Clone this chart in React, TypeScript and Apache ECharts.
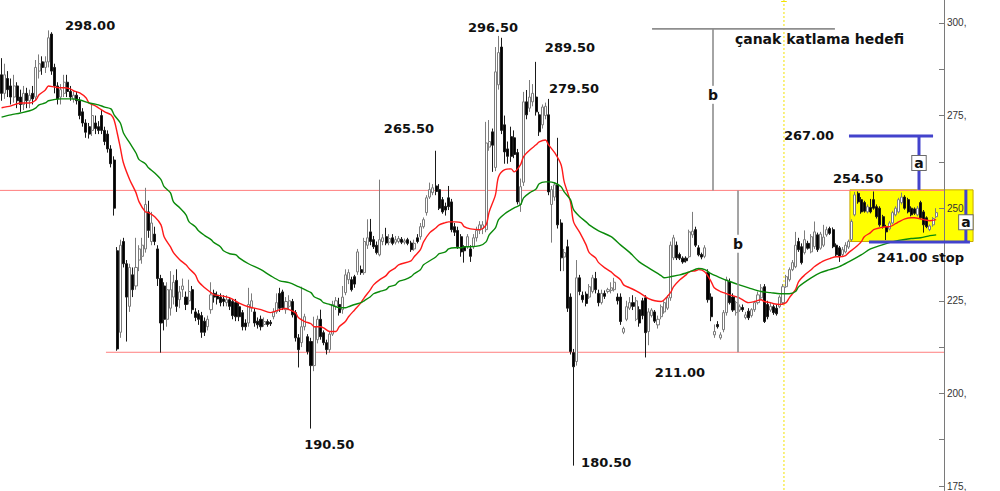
import React, { useEffect, useRef } from "react";
import * as echarts from "echarts";

// [open, close, low, high]
const candles: number[][] = [
  [286,281,279,290.5],[281,286,279.5,289],[285,282,280,287],[283,280,278,285],[280,283,278.5,286],
  [283,279,277,284],[280,278,276,282],[278,281,276.5,283],[281,279,277,282.5],[279,280.5,277,282],
  [281,279.5,278,283],[280,288,279,290],[287,289,285,291.5],[289.5,288,286,291],[288,289.5,286.5,291],
  [289.5,296,288,298],[297,287,286,297.5],[288,283,281,289],[283,279.5,278,284],[280,282,278,283.5],
  [281,284,280,286],[284,281.5,280,286],[281.5,280,279,283],[279.5,280.5,278.5,281.5],[280.5,279,278,281.5],
  [279,275,274,280],[276,273,272,277],[273,270.5,269,274],[272,270,268.8,273],[271,275,269.5,278],
  [273,271.5,270,275],[272,271,270,273.5],[275,271,270,276.5],[271,268,267,272],[270,266,265,271],
  [266,262,261,267],[263,250,248,264],[238.5,212,211.5,239.5],[216.5,240,215,241.5],[241,235,234,242],
  [235,226,214,236],[223.5,234,222,235],[232,228,226,234],[229,234,228,242],[236,239,233,240],
  [237,240,235,242],[239,251,238,255.5],[249,244,242,252],[241,246,240,249],[243,241,240,245],
  [239,231,229,240],[231,219,211,232],[229,220,217,230],[220,228,218,230],[223,228,221,233],
  [226,230,224,232],[230.5,223.5,222,233.5],[225.3,227.4,223,229],[228,229,226,231],[226,224,222.5,227.5],
  [225,227.5,224,230.7],[228,222.6,221.5,229],[222,220.5,219.5,223],[221.5,220,218.5,222.5],[221,216.5,215,222],
  [219.5,216.5,215.5,220.5],[218,220,217,221],[222.6,226.6,221.5,230],[227,226,224.5,228],[226.5,225.5,224,227.5],
  [226,224.5,223.5,227],[225.5,224.8,223.5,226.5],[224.5,225.3,223.5,226.5],[225.3,223.5,222.5,226],[224.8,221,220,225.5],
  [224.5,220.7,219.5,225.5],[223.4,220.7,219.5,224.5],[221.8,218,217,222.5],[219,218,217,220],[219,224,218,228.5],
  [223,225,222,227],[222,219,218,223],[219.5,218.5,217.5,220.5],[220,218,217,221],[218.6,219.4,218,220.5],
  [219.4,218.6,218,220],[219.2,218.8,218.2,219.8],[220.7,222,220,223],[222,224.5,221.5,227],[227,223,222,228.5],
  [227.4,223.1,222.5,228],[222.6,224.8,221.5,226],[223.5,225,222.5,226.5],[224.8,221.2,220.5,225.5],[221.8,215,214,222.5],
  [215,211.8,207,216],[213.7,218,212.5,228.8],[218,220.7,217,221.5],[215.3,211.3,210.5,216],[214,207.5,190.5,215],
  [207.5,218,206,220.7],[214.5,220,213.5,221],[220,215.3,214.5,222.6],[216.4,213.7,213,217],[213.7,211.8,210.5,214.5],
  [211.8,216,211,216.8],[216,224,215.5,225],[223.5,225,222.5,226],[224,221.8,221,225.8],[222.6,226,221.5,229],
  [227.2,232,226.5,233.5],[230.7,232.6,229.5,233.5],[230.7,228,227.5,231.5],[231.5,229.5,228.5,232],[232.8,238.2,232,239],
  [233.4,232.6,232,234.5],[232.6,241,232,242],[240,242,239,247],[243.6,241,240,247.1],[241.5,239.6,239,242.5],
  [240,238,237.5,241],[237.4,241.5,237,257.7],[241,242,240,243],[242.3,240.6,240,244.7],[240.8,241.8,240,243],
  [242,240.5,240,243],[240.8,241.5,240.2,242.5],[241,241.8,240.5,242.5],[241.6,240.8,240.3,242.2],[240.8,241.2,240.2,241.8],
  [241.5,240.5,240,242],[240.6,238.8,238.2,241.2],[239,240.5,238.5,241.5],[242,241,240.5,243],[242.3,245,241.5,246],
  [245,246.9,244.5,247.5],[248.8,252.8,248,253.5],[253,255,252.5,256.9],[254.2,255.5,253.5,256.5],[256,254.5,253.5,265.5],
  [255,250,249.5,256.5],[252.3,249,248.5,253],[250.5,249.5,248,251.5],[252.8,250.4,249.5,256],[251.7,244.2,243.5,252.5],
  [245,243.5,242.5,246],[244,239.6,239,245],[242.3,238.2,236.9,243],[239.5,238.5,235.3,240],[239.6,242.3,239,243],
  [239,237,235.5,240],[239.6,242,239,243],[242,244,241,245],[244,245.5,243,246.5],[244.5,245.5,243,246.5],
  [244.2,267.6,243.5,273.3],[266.5,268,265.5,273.8],[270.6,267,259.8,271.5],[261,286.8,260,293.5],[283.3,292,282,296.5],
  [293.5,271,270,296],[272.5,265.2,262,275],[266,264,262,268],[269.3,264,262.5,272],[269,264.5,263.5,271],
  [265,251.7,251,266],[251,255.8,249,258],[257,278.7,256,281.4],[278.7,275.2,274,281.9],[277,280,276,284.6],
  [278.7,281,277.5,283.5],[280,276,275,289.5],[275.2,270.6,269.5,276],[272.5,277.3,271.5,278],[275,277.5,274,278.5],
  [275.2,254.4,253.5,279.5],[251,255,240.7,256],[253,256.3,252,257],[256.3,245.5,244.5,269],[246,236.6,233,247],
  [236.8,238,233,239],[239.6,223,222,241.5],[226,211.3,210.5,227],[211,207.2,180.5,212],[208.6,231.2,207.5,236],
  [231.2,227.5,226.5,232],[226.5,225.3,224.5,227.5],[226.8,224.3,223.5,227.5],[226,228.8,225.5,229.5],[227.5,231.2,227,232],
  [231,228,227,232.8],[227,224.5,223.5,228],[224.5,227,224,228],[227,226.2,225.5,227.8],[227.5,228,227,228.5],
  [227.8,228.5,227,230],[228,230,227.5,231.2],[226,225,224,227],[226,219.4,218.5,227],[216.5,217.5,216,218],
  [220,223.4,219.5,225],[223,224.5,222.5,226],[224.5,223.5,222.5,226.5],[220,225,219.5,226],[222.6,219,218,223.5],
  [225,221,220,225.8],[225.8,216.4,209.7,226.5],[216.7,222,213,223],[221,222.5,220.5,223],[222,219.5,219,222.5],
  [218.5,220,217.5,221],[220.7,223.4,220,224],[222,224.5,221.5,225],[223,225.8,222.5,226.5],[225.8,240,225,241],
  [236.6,242,236,242.8],[240,236.6,236,241],[237.5,236.5,236,238],[236.5,235.5,235,237],[236.5,235.8,235.3,237],
  [236.9,243.6,236.5,244.2],[242.8,243.8,242,249],[244.2,240,239.5,245],[239.3,237.4,237,240],[237.5,236.8,236.2,238],
  [237,239.3,236.5,240],[232.6,225.3,224.5,233.5],[226,220.7,219.5,227],[215.8,216.7,215,218.6],[218.6,218,217.5,219.5],
  [215,215.8,214.5,216.5],[217.2,221.8,216.5,222.5],[221.8,230.7,221,231.5],[230.2,224.5,224,231],[226,222.5,222,227],
  [221.8,224.5,221,225],[222.5,223.4,222,224],[223.2,222.6,222,224],[220.5,221.2,220,222],[222.2,220.4,219.8,223],
  [221,222.6,220.5,223],[222.6,224.5,222,225],[224.5,226.6,224,227.5],[225.8,228.5,225.5,229.5],[228.8,219.4,219,229.5],
  [224,220.7,220,225],[222.5,223.5,222,224.5],[223.4,221.8,221.2,224],[223,221.5,221,224],[223.4,226,223,226.5],
  [224.5,228.8,224,229.5],[228.8,231.5,228.5,232],[230.7,233.4,230.2,234],[233.4,235.3,233,236],[234.2,240,233.8,243.6],
  [241,238.8,238.2,242],[239.6,235.3,234.8,240.5],[238,241.5,237.5,244],[240.5,239.2,238.8,241.2],[238.2,242.3,237.8,243],
  [239.6,243.6,239,246.4],[242.8,238.8,238.2,243.4],[239.2,243,238.8,243.6],[240,242.2,239.5,245.5],[242.8,244.2,242.3,245],
  [244.5,243.2,242.8,245],[244.2,239.6,239.2,244.8],[240,237.4,237,240.5],[239.3,236.9,235.5,239.8],[237.5,238.8,237,239.5],
  [238.2,240,237.8,240.8],[239.5,241,239,241.5],[241.5,246.4,241,247],[248.2,253.6,247.8,254.4],[254,251.7,251.2,254.5],
  [252.3,249,248.5,253],[251.5,249.2,248.8,252],[249,250.4,248.6,251],[250.2,249,248.6,252.5],[252.3,250,249.6,254.5],
  [250.4,247.7,247.2,251],[250,245.5,245,250.5],[247.7,245,244.5,248.2],[245,243.6,241.4,245.5],[244.4,246,244,246.5],
  [246,248.8,245.6,249.3],[248.2,250,247.8,250.5],[249,252.3,248.6,252.8],[251.5,253,251,254.2],[253,250,249.6,253.5],
  [252.3,249,248.6,252.8],[250,248.2,247.8,250.5],[249.8,248.6,248.2,250.2],[248.2,250,247.8,250.6],[251.5,247.4,247,252],
  [249,245.5,243.4,249.5],[247.4,245,244.6,247.8],[244.2,245.2,243.8,245.6],[245.5,247.2,245,247.6],[247.7,248.8,247.3,250],
];

// fast moving average, sampled [candle index, value]
const maFast: number[][] = [
  [0,277.1],[3,277.6],[6,278.4],[9,278.4],[11,279.2],[12,280.6],[14,281.9],[15,283],[17,282.7],[19,282.5],[20,282.5],
  [22,282.2],[23,281.7],[25,281.1],[27,279.8],[28,278.4],[30,277.6],[31,277.1],[33,276],[35,275.2],[36,273.8],[37,270.3],
  [38,266.3],[39,262.2],[41,257.7],[43,254.2],[44,251.7],[46,249],[47,248.8],[49,247.7],[51,245.5],[52,242.3],[54,239.6],
  [55,238],[57,236.1],[59,234.7],[60,233.7],[62,232],[63,230.2],[65,228.5],[67,227.2],[68,226.6],[70,226.4],[73,225.8],
  [76,224.4],[79,223.4],[83,222.6],[86,221.8],[89,222.6],[91,222.9],[92,222.6],[94,221.8],[95,220.4],[97,219.4],[99,218.8],
  [100,218],[102,218],[103,217.7],[105,216.7],[107,216.7],[108,218],[110,219.4],[111,220.7],[113,222.6],[115,224.5],
  [116,225.8],[118,228],[119,229.3],[121,230.7],[123,231.8],[124,232.8],[126,233.9],[127,234.7],[131,235.8],[132,236.9],
  [134,238.8],[135,240.9],[137,243.4],[139,244.7],[140,245.5],[142,246.1],[143,246.3],[145,246.3],[147,246.1],[148,245],
  [150,244.4],[153,244.2],[155,245.5],[156,249],[158,253.6],[159,258.5],[161,260.4],[163,260.6],[164,259.8],[166,261.7],
  [167,263.9],[169,265.7],[171,267.1],[172,267.9],[174,268.4],[175,267.1],[177,264.9],[179,261.7],[180,257.1],[182,251.7],
  [183,246.3],[185,243.4],[187,240.1],[188,238],[190,236.6],[191,235.3],[193,233.9],[195,232.8],[196,232],[198,230.7],
  [199,229.3],[201,228.5],[203,227.7],[204,227.2],[206,226.1],[207,225.6],[209,225],[211,224.8],[212,225.3],[214,227.2],
  [215,228.8],[217,230.7],[219,232],[220,232.8],[222,233.1],[223,233.4],[225,232.8],[227,230.2],[228,228.5],[230,227.5],
  [231,227.2],[233,226.6],[235,226.1],[236,225.8],[238,224.8],[239,224.5],[241,224.8],[243,225.3],[244,224.8],[246,224.5],
  [247,224.2],[249,224],[251,224.5],[252,225.8],[254,228],[255,230.2],[257,232],[259,233.4],[260,234.2],[262,235.3],
  [263,235.8],[265,236.4],[267,236.9],[268,236.9],[270,237.2],[271,238],[273,239.3],[275,240.9],[276,242.3],[278,243.4],
  [279,244.2],[281,244.7],[283,245],[284,245],[286,245.8],[287,246.3],[289,247.1],[291,247.4],[292,247.4],[294,247.1],
  [295,246.9],[297,246.6],[299,246.9],
];

// slow moving average, sampled [candle index, value]
const maSlow: number[][] = [
  [0,274.6],[3,275.2],[6,275.7],[9,276.3],[11,277.1],[12,277.9],[14,278.4],[15,279],[19,279.5],[22,279.5],[25,279.2],
  [28,278.4],[30,278.1],[31,277.9],[33,277.3],[35,276.8],[36,275.2],[38,273],[39,270.3],[41,267.6],[43,264.9],[44,263.1],
  [46,262],[47,260.9],[49,259.5],[51,257.7],[52,255.8],[54,254.2],[55,251.7],[57,250.1],[59,248.2],[60,246.3],[62,245],
  [63,243.9],[65,242.6],[67,241.5],[68,240.7],[70,239.6],[71,238.5],[73,237.7],[75,237.4],[76,236.6],[79,235],[83,233.4],
  [86,231.8],[89,230.4],[92,229.9],[95,228.8],[97,228],[99,227.2],[100,226.1],[102,225.3],[103,224.5],[105,224],[107,223.4],
  [108,223.1],[110,223.1],[111,223.4],[113,224],[115,224.5],[116,225],[118,226.1],[119,226.9],[121,227.5],[123,228],
  [124,228.8],[126,229.3],[127,230.2],[129,230.7],[131,231.5],[132,232.3],[134,233.4],[135,234.7],[137,235.8],[139,236.9],
  [140,237.7],[142,238.2],[143,239],[145,239.3],[147,239.3],[148,239.6],[150,239.6],[153,239.9],[155,240.9],[156,242.8],
  [158,244.7],[159,246.9],[161,248.5],[163,249.6],[164,250.1],[166,250.9],[167,252.8],[169,254.2],[171,255.2],[172,256.6],
  [174,257.1],[175,257.1],[177,256.8],[179,255.8],[180,254.4],[182,252.3],[183,249.6],[185,247.7],[187,246.3],[188,245.5],
  [191,243.9],[195,242.3],[198,240.1],[201,238],[204,235.5],[207,233.9],[211,231.8],[212,231.2],[214,231.5],[217,232],
  [220,232.8],[223,233.7],[225,233.4],[227,232.3],[230,231.2],[233,230.2],[236,229.3],[239,228.5],[243,227.5],[246,227.2],
  [249,226.9],[252,226.9],[254,227.5],[255,228.8],[259,231.2],[262,232.6],[265,233.4],[268,234.2],[271,235.5],[275,237.4],
  [278,239],[281,239.9],[284,240.7],[287,241.3],[291,241.8],[294,242],[297,242.6],[299,242.8],
];

const yTicks = [175, 200, 225, 250, 275, 300];
const yMinorTicks = [187.5, 212.5, 237.5, 262.5, 287.5];
const supportLevels = [254.8, 211.1];
const priceNotes: { text: string; idx: number; val: number; size: number }[] = [
  { text: "298.00", idx: 20.3, val: 299.45, size: 13 },
  { text: "296.50", idx: 149.2, val: 298.65, size: 13 },
  { text: "289.50", idx: 173.8, val: 293.5, size: 13 },
  { text: "279.50", idx: 175.1, val: 282.2, size: 13 },
  { text: "265.50", idx: 122.3, val: 271.4, size: 13 },
  { text: "190.50", idx: 96.8, val: 186.2, size: 13 },
  { text: "180.50", idx: 185.4, val: 181.3, size: 13 },
  { text: "211.00", idx: 209.0, val: 205.6, size: 13 },
  { text: "254.50", idx: 266.0, val: 257.9, size: 13 },
  { text: "267.00", idx: 250.3, val: 269.5, size: 13 },
  { text: "241.00 stop", idx: 280.1, val: 236.6, size: 13 },
  { text: "çanak katlama hedefi", idx: 234.6, val: 295.7, size: 14 },
];

const categories = Array.from({ length: 302 }, (_, i) => String(i));

export default function App() {
  const ref = useRef<HTMLDivElement>(null);
  useEffect(() => {
    if (!ref.current) return;
    const chart = echarts.init(ref.current, undefined, { renderer: "svg" });
    chart.setOption({
      animation: false,
      backgroundColor: "#ffffff",
      grid: { left: 0, right: 56, top: 0, bottom: 0, containLabel: false },
      xAxis: { type: "category", data: categories, boundaryGap: true, show: false },
      yAxis: {
        type: "value",
        position: "right",
        min: 173.8,
        max: 306.2,
        z: 3,
        splitLine: { show: false },
        axisLine: { show: true, lineStyle: { color: "#7a7a7a", width: 1 } },
        axisTick: {
          show: true,
          inside: true,
          length: 5,
          customValues: [...yTicks, ...yMinorTicks],
          lineStyle: { color: "#7a7a7a" },
        },
        axisLabel: {
          customValues: yTicks,
          formatter: (v: number) => `${v},`,
          margin: 3,
          color: "#333",
          fontSize: 10,
          fontFamily: "Liberation Sans",
        },
      },
      series: [
        {
          type: "candlestick",
          data: candles,
          barWidth: "82%",
          z: 2,
          itemStyle: {
            color: "#ffffff",
            color0: "#000000",
            borderColor: "#7c7c7c",
            borderColor0: "#1a1a1a",
            borderWidth: 1,
          },
        },
        {
          type: "line",
          data: maFast,
          smooth: 0.3,
          showSymbol: false,
          z: 3,
          lineStyle: { color: "#ff1a1a", width: 1.4 },
        },
        {
          type: "line",
          data: maSlow,
          smooth: 0.3,
          showSymbol: false,
          z: 3,
          lineStyle: { color: "#0a8a0a", width: 1.4 },
        },
      ],
    });

    const o = chart.convertToPixel({ xAxisIndex: 0, yAxisIndex: 0 }, [0, 250]) as number[];
    const o1 = chart.convertToPixel({ xAxisIndex: 0, yAxisIndex: 0 }, [10, 250]) as number[];
    const step = (o1[0] - o[0]) / 10;
    const X = (idx: number) => o[0] + idx * step;
    const Y = (v: number) => (chart.convertToPixel({ yAxisIndex: 0 }, v) as number);
    const H = chart.getHeight();

    const line = (x1: number, y1: number, x2: number, y2: number, stroke: string, w: number, z: number, dash?: number[]) => ({
      type: "line",
      z,
      silent: true,
      shape: { x1, y1, x2, y2 },
      style: { stroke, lineWidth: w, lineDash: dash },
    });
    const blue = "#4343cc";
    const gray = "#8e8e8e";
    const els: any[] = [];
    // yellow box
    els.push({
      type: "rect",
      z: 1,
      silent: true,
      shape: { x: X(271.4), y: Y(254.95), width: X(310.8) - X(271.4), height: Y(241.0) - Y(254.95) },
      style: { fill: "#ffff00", stroke: "#c9a800", lineWidth: 1 },
    });
    // support / resistance lines
    els.push(line(0, Y(supportLevels[0]), X(301.5), Y(supportLevels[0]), "#ff7f7f", 1, 1.5));
    els.push(line(X(33.4), Y(supportLevels[1]), X(301.5), Y(supportLevels[1]), "#ff7f7f", 1, 1.5));
    // yellow dotted time line
    els.push(line(X(250.3), 0, X(250.3), H, "#f2e200", 1, 1.5, [2, 2]));
    els.push(line(X(249.4), 1.5, X(251.2), 1.5, "#f2e200", 1, 1.5));
    // gray "b" measurement
    els.push(line(X(208.1), Y(298.4), X(266.6), Y(298.4), gray, 1.6, 4));
    els.push(line(X(227.6), Y(298.4), X(227.6), Y(supportLevels[0]), gray, 1.6, 4));
    els.push(line(X(235.6), Y(supportLevels[0]), X(235.6), Y(supportLevels[1]), gray, 1.6, 4));
    // blue "a" measurement
    els.push(line(X(271.1), Y(269.5), X(298.0), Y(269.5), blue, 3, 4));
    els.push(line(X(293.5), Y(269.5), X(293.5), Y(254.95), blue, 3, 4));
    els.push(line(X(277.5), Y(240.9), X(309.8), Y(240.9), blue, 3, 4));
    els.push(line(X(308.5), Y(254.95), X(308.5), Y(240.9), blue, 3, 4));
    const tag = (t: string, x: number, y: number, boxed: boolean) => ({
      type: "text",
      z: 6,
      silent: true,
      x,
      y,
      style: {
        text: t,
        font: 'bold 14px "DejaVu Sans"',
        fill: "#111",
        align: "center",
        verticalAlign: "middle",
        backgroundColor: "#ffffff",
        borderColor: boxed ? "#6a6a6a" : undefined,
        borderWidth: boxed ? 1 : 0,
        padding: boxed ? [0, 2, 0, 2] : [2, 1, 2, 1],
      },
    });
    els.push(tag("b", X(227.6), Y(280.6), false));
    els.push(tag("b", X(235.6), Y(240.4), false));
    els.push(tag("a", X(293.5), Y(262.2), true));
    els.push(tag("a", X(308.5), Y(246.2), true));
    priceNotes.forEach((n) => {
      els.push({
        type: "text",
        z: 6,
        silent: true,
        x: X(n.idx),
        y: Y(n.val),
        style: {
          text: n.text,
          font: `bold ${n.size}px "DejaVu Sans"`,
          fill: "#111",
          align: "left",
          verticalAlign: "middle",
        },
      });
    });
    chart.setOption({ graphic: { elements: els } });

    return () => chart.dispose();
  }, []);
  return (
    <div
      ref={ref}
      style={{ position: "fixed", left: 0, top: 0, width: 1000, height: 491, background: "#fff" }}
    />
  );
}
